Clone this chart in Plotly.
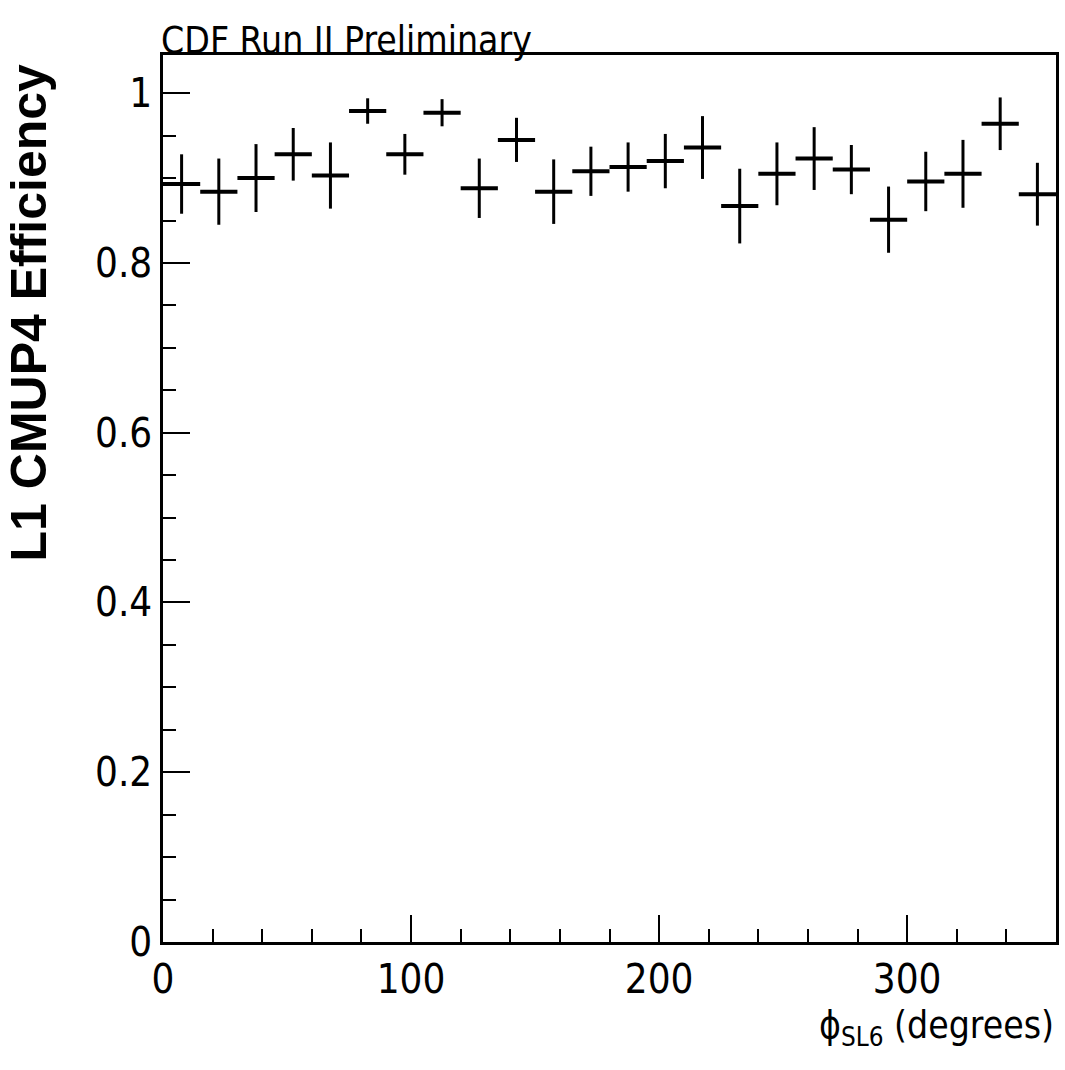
import plotly.graph_objects as go

# Bin centres (15-degree bins over 0-360)
phi_centers = [7.5, 22.5, 37.5, 52.5, 67.5, 82.5, 97.5, 112.5, 127.5, 142.5, 157.5, 172.5,
               187.5, 202.5, 217.5, 232.5, 247.5, 262.5, 277.5, 292.5, 307.5, 322.5, 337.5, 352.5]
bin_half_width = [7.5] * 24
efficiency = [0.893, 0.884, 0.900, 0.928, 0.903, 0.979, 0.928, 0.977, 0.888, 0.945, 0.884, 0.908,
              0.913, 0.920, 0.936, 0.867, 0.905, 0.923, 0.910, 0.851, 0.896, 0.905, 0.964, 0.881]
eff_error = [0.035, 0.039, 0.040, 0.031, 0.039, 0.015, 0.024, 0.016, 0.035, 0.026, 0.038, 0.029,
             0.029, 0.032, 0.037, 0.044, 0.037, 0.037, 0.029, 0.039, 0.035, 0.040, 0.031, 0.037]

x_tickvals = [0, 100, 200, 300]
y_tickvals = [0, 0.2, 0.4, 0.6, 0.8, 1]
y_ticktext = ["0", "0.2", "0.4", "0.6", "0.8", "1"]

NARROW = "Liberation Sans Narrow, Arial Narrow, DejaVu Sans Condensed, sans-serif"
W, H = 1065, 1070
L, R, T, B = 163, 6, 55, 128

fig = go.Figure()
fig.add_trace(go.Scatter(
    x=phi_centers, y=efficiency, mode="markers",
    marker=dict(size=0.1, color="black"),
    error_y=dict(type="data", array=eff_error, visible=True, color="black", thickness=3, width=0),
    error_x=dict(type="data", array=bin_half_width, visible=True, color="black", thickness=4, width=0),
    showlegend=False,
))

axis_common = dict(
    showline=True, linecolor="black", linewidth=2.5, mirror=True,
    showgrid=False, zeroline=False, ticks="inside", tickcolor="black", tickwidth=2,
    ticklen=27, tickfont=dict(family=NARROW, size=40, color="black"),
)

fig.update_xaxes(range=[0, 360], tickvals=x_tickvals, ticktext=[str(v) for v in x_tickvals],
                 minor=dict(ticks="inside", dtick=20, tick0=0, ticklen=13, tickwidth=1.5, tickcolor="black"),
                 **axis_common)
fig.update_yaxes(range=[0, 1.045], tickvals=y_tickvals, ticktext=y_ticktext,
                 minor=dict(ticks="inside", dtick=0.05, tick0=0, ticklen=13, tickwidth=2, tickcolor="black"),
                 **axis_common)

fig.update_layout(
    width=W, height=H, autosize=False,
    margin=dict(l=L, r=R, t=T, b=B, pad=0),
    paper_bgcolor="white", plot_bgcolor="white",
    annotations=[
        dict(text="CDF Run II Preliminary", xref="paper", yref="paper", x=0, y=1,
             xanchor="left", yanchor="bottom", xshift=-4, yshift=-9, showarrow=False,
             font=dict(family=NARROW, size=37, color="black")),
        dict(text="ϕ<sub>SL6</sub> (degrees)", xref="paper", yref="paper", x=1, y=0,
             xanchor="right", yanchor="top", xshift=0, yshift=-60, showarrow=False,
             font=dict(family=NARROW, size=37, color="black")),
        dict(text="<b>L1 CMUP4 Efficiency</b>", xref="paper", yref="paper",
             x=(29 - L) / (W - L - R), y=(H - B - 312) / (H - T - B),
             xanchor="center", yanchor="middle", textangle=-90, showarrow=False,
             font=dict(family="Liberation Sans, Arial, sans-serif", size=50, color="black")),
    ],
)

fig.write_html("out.html")
